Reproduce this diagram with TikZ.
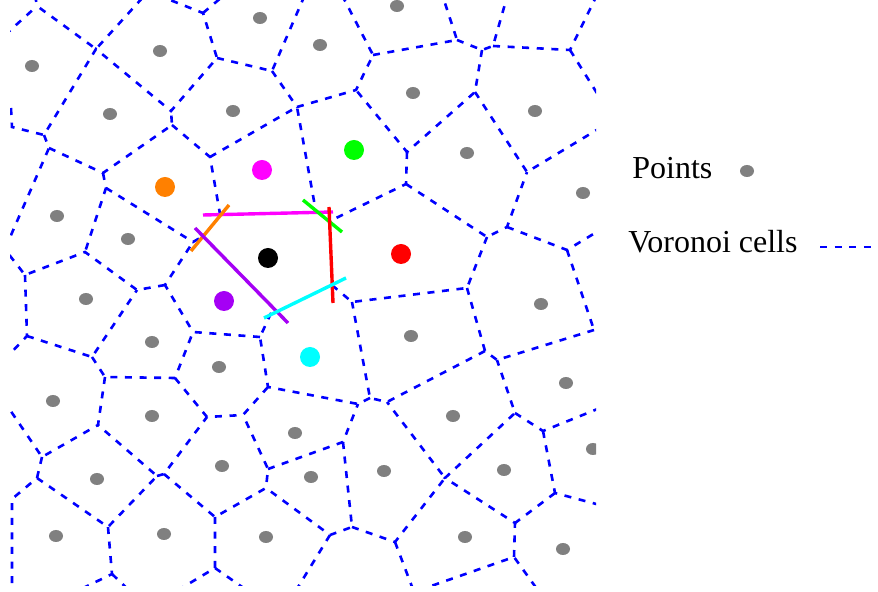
\documentclass[tikz,border=0pt]{standalone}
\usepackage{fontspec}
\setmainfont{Liberation Serif}
\usepackage{xcolor}
\definecolor{vorange}{RGB}{255,128,0}
\definecolor{vpurple}{RGB}{165,0,245}
\definecolor{vmagenta}{RGB}{255,0,255}
\definecolor{vcyan}{RGB}{0,255,255}
\definecolor{vgreen}{RGB}{0,255,0}
\definecolor{vred}{RGB}{255,0,0}
\definecolor{vgray}{RGB}{128,128,128}

\begin{document}
\begin{tikzpicture}[x=0.5pt,y=-0.5pt,
  vor/.style={blue,line width=1.3pt,dash pattern=on 3.5pt off 3.8pt},
  bar/.style={line width=1.7pt},
  lbl/.style={anchor=base west,inner sep=0pt,font=\fontsize{16}{18}\selectfont}]
\useasboundingbox (0,0) rectangle (878,592);

\coordinate (t1) at (35,-5);
\coordinate (v1) at (37,6);
\coordinate (l1) at (5,35);
\coordinate (v2) at (96,49);
\coordinate (t2) at (145,-5);
\coordinate (v3) at (44,135);
\coordinate (c2) at (12,127);
\coordinate (l2) at (11,108);
\coordinate (v3b) at (49,148);
\coordinate (l3) at (8,242);
\coordinate (v4) at (171,111);
\coordinate (v4b) at (172,125);
\coordinate (v5) at (103,173);
\coordinate (v5b) at (106,188);
\coordinate (vt) at (203,13);
\coordinate (t3) at (165,-2);
\coordinate (t4) at (222,-3);
\coordinate (v6) at (217,58);
\coordinate (v7) at (272,71);
\coordinate (t5) at (304,-3);
\coordinate (v8) at (297,107);
\coordinate (v9) at (356,90);
\coordinate (v9b) at (373,55);
\coordinate (t6) at (343,-3);
\coordinate (v10) at (210,157);
\coordinate (v11) at (457,40);
\coordinate (t7) at (443,-3);
\coordinate (v12) at (482,50);
\coordinate (v12b) at (493,46);
\coordinate (t8) at (507,-3);
\coordinate (v13) at (570,50);
\coordinate (t9) at (596,-3);
\coordinate (r1) at (600,98);
\coordinate (v14) at (475,92);
\coordinate (v15) at (407,152);
\coordinate (v16) at (527,172);
\coordinate (r2) at (600,128);
\coordinate (v17) at (406,184);
\coordinate (l4) at (7,252);
\coordinate (v18) at (25,275);
\coordinate (v19) at (85,252);
\coordinate (v20) at (27,336);
\coordinate (l5) at (6,358);
\coordinate (v21) at (137,290);
\coordinate (v22) at (193,242);
\coordinate (v23) at (165,285);
\coordinate (v24) at (92,357);
\coordinate (v24b) at (105,377);
\coordinate (v25) at (193,332);
\coordinate (v26) at (175,378);
\coordinate (k1) at (220,214);
\coordinate (k2) at (316,212);
\coordinate (k3) at (332,220);
\coordinate (k4) at (333,286);
\coordinate (k5) at (272,311);
\coordinate (k6) at (200,238);
\coordinate (v27) at (260,337);
\coordinate (v28) at (487,237);
\coordinate (v29) at (507,227);
\coordinate (v30) at (567,250);
\coordinate (r3) at (600,230);
\coordinate (v31) at (467,288);
\coordinate (vr) at (352,302);
\coordinate (v32a) at (485,351);
\coordinate (v32b) at (497,360);
\coordinate (v33) at (594,330);
\coordinate (r6) at (602,333);
\coordinate (v34) at (98,425);
\coordinate (v35) at (207,417);
\coordinate (v36) at (42,457);
\coordinate (l6) at (8,407);
\coordinate (v36b) at (37,478);
\coordinate (v39) at (12,499);
\coordinate (l7) at (12,595);
\coordinate (v37a) at (157,476);
\coordinate (v37b) at (164,474);
\coordinate (v38) at (108,527);
\coordinate (v40) at (112,574);
\coordinate (b1) at (75,592);
\coordinate (b2) at (135,596);
\coordinate (v41) at (243,415);
\coordinate (v42) at (268,387);
\coordinate (v43) at (358,404);
\coordinate (v43b) at (370,398);
\coordinate (v60) at (387,402);
\coordinate (v44) at (268,469);
\coordinate (v44b) at (266,488);
\coordinate (v45) at (343,442);
\coordinate (v47) at (215,517);
\coordinate (v48) at (330,535);
\coordinate (v49) at (352,527);
\coordinate (v50) at (215,568);
\coordinate (b3) at (170,595);
\coordinate (b4) at (255,596);
\coordinate (b5) at (295,592);
\coordinate (v46) at (445,478);
\coordinate (v51) at (515,413);
\coordinate (v52) at (543,431);
\coordinate (r4) at (600,408);
\coordinate (v53) at (555,493);
\coordinate (r5) at (600,505);
\coordinate (v54) at (395,542);
\coordinate (v55) at (414,592);
\coordinate (v56) at (515,523);
\coordinate (v57) at (514,557);
\coordinate (b7) at (542,596);

\begin{scope}
\clip (10,-1) rectangle (596,586);
\draw[vor] (t1) -- (v1) -- (v2) -- (t2);
\draw[vor] (l1) -- (v1);
\draw[vor] (l2) -- (c2) -- (v3) -- (v2) -- (v4) -- (v6) -- (vt) -- (t3);
\draw[vor] (vt) -- (t4);
\draw[vor] (v3) -- (v3b) -- (l3);
\draw[vor] (v3b) -- (v5) -- (v4b) -- (v4);
\draw[vor] (v5) -- (v5b) -- (v19);
\draw[vor] (v5b) -- (v22) -- (k6);
\draw[vor] (v4b) -- (v10) -- (k1);
\draw[vor] (v10) -- (v8) -- (k2);
\draw[vor] (v6) -- (v7) -- (t5);
\draw[vor] (v7) -- (v8) -- (v9) -- (v9b) -- (t6);
\draw[vor] (v9b) -- (v11) -- (t7);
\draw[vor] (v11) -- (v12) -- (v12b) -- (t8);
\draw[vor] (v12b) -- (v13) -- (t9);
\draw[vor] (v13) -- (r1);
\draw[vor] (v12) -- (v14) -- (v15) -- (v9);
\draw[vor] (v14) -- (v16) -- (r2);
\draw[vor] (v15) -- (v17) -- (k3);
\draw[vor] (v17) -- (v28) -- (v29) -- (v16);
\draw[vor] (v29) -- (v30) -- (r3);
\draw[vor] (v30) -- (v33) -- (r6);
\draw[vor] (v28) -- (v31) -- (vr) -- (k4);
\draw[vor] (v31) -- (v32a) -- (v32b) -- (v33);
\draw[vor] (v32a) -- (v60) -- (v43b) -- (vr);
\draw[vor] (v43b) -- (v43) -- (v42) -- (v27) -- (k5);
\draw[vor] (v27) -- (v25) -- (v23) -- (v22);
\draw[vor] (v23) -- (v21) -- (v19) -- (v18) -- (l4);
\draw[vor] (v18) -- (v20) -- (l5);
\draw[vor] (v20) -- (v24) -- (v21);
\draw[vor] (v24) -- (v24b) -- (v26) -- (v25);
\draw[vor] (v26) -- (v35) -- (v41) -- (v42);
\draw[vor] (v24b) -- (v34) -- (v36) -- (l6);
\draw[vor] (v36) -- (v36b) -- (v39) -- (l7);
\draw[vor] (v36b) -- (v38) -- (v37a) -- (v34);
\draw[vor] (v37a) -- (v37b) -- (v35);
\draw[vor] (v37b) -- (v47) -- (v44b) -- (v44) -- (v41);
\draw[vor] (v44) -- (v45) -- (v43);
\draw[vor] (v45) -- (v49) -- (v48) -- (v44b);
\draw[vor] (v48) -- (b5);
\draw[vor] (v38) -- (v40) -- (b1);
\draw[vor] (v40) -- (b2);
\draw[vor] (v47) -- (v50) -- (b3);
\draw[vor] (v50) -- (b4);
\draw[vor] (v49) -- (v54) -- (v46) -- (v60);
\draw[vor] (v54) -- (v55) -- (v57) -- (b7);
\draw[vor] (v57) -- (v56) -- (v46) -- (v51) -- (v32b);
\draw[vor] (v51) -- (v52) -- (r4);
\draw[vor] (v52) -- (v53) -- (r5);
\draw[vor] (v53) -- (v56);

\fill[vgray] (260,18) ellipse (3.5pt and 3pt) (397,6) ellipse (3.5pt and 3pt)
  (160,51) ellipse (3.5pt and 3pt) (320,45) ellipse (3.5pt and 3pt)
  (32,66) ellipse (3.5pt and 3pt) (413,93) ellipse (3.5pt and 3pt)
  (110,114) ellipse (3.5pt and 3pt) (233,111) ellipse (3.5pt and 3pt)
  (535,111) ellipse (3.5pt and 3pt) (467,153) ellipse (3.5pt and 3pt)
  (583,193) ellipse (3.5pt and 3pt) (57,216) ellipse (3.5pt and 3pt)
  (128,239) ellipse (3.5pt and 3pt) (86,299) ellipse (3.5pt and 3pt)
  (541,304) ellipse (3.5pt and 3pt) (152,342) ellipse (3.5pt and 3pt)
  (411,336) ellipse (3.5pt and 3pt) (219,367) ellipse (3.5pt and 3pt)
  (566,383) ellipse (3.5pt and 3pt) (53,401) ellipse (3.5pt and 3pt)
  (152,416) ellipse (3.5pt and 3pt) (295,433) ellipse (3.5pt and 3pt)
  (453,416) ellipse (3.5pt and 3pt) (222,466) ellipse (3.5pt and 3pt)
  (384,471) ellipse (3.5pt and 3pt) (504,470) ellipse (3.5pt and 3pt)
  (97,479) ellipse (3.5pt and 3pt) (311,477) ellipse (3.5pt and 3pt)
  (593,449) ellipse (3.5pt and 3pt) (56,536) ellipse (3.5pt and 3pt)
  (164,534) ellipse (3.5pt and 3pt) (266,537) ellipse (3.5pt and 3pt)
  (465,537) ellipse (3.5pt and 3pt) (563,549) ellipse (3.5pt and 3pt);
\end{scope}

\draw[vmagenta,bar] (203,215) -- (333,212);
\draw[vorange,bar] (191,251) -- (229,205);
\draw[vpurple,bar] (195,228) -- (288,323);
\draw[vgreen,bar] (303,200) -- (342,232);
\draw[vred,bar] (329,207) -- (333,303);
\draw[vcyan,bar] (264,318) -- (346,278);

\fill[vorange] (165,187) circle (5pt);
\fill[vmagenta] (262,170) circle (5pt);
\fill[vgreen] (354,150) circle (5pt);
\fill[black] (268,258) circle (5pt);
\fill[vred] (401,254) circle (5pt);
\fill[vpurple] (224,301) circle (5pt);
\fill[vcyan] (310,357) circle (5pt);

\node[lbl] (ptlabel) at (632,179) {Points};
\fill[vgray] (747,171) ellipse (3.5pt and 3pt);
\node[lbl] (vclabel) at (628,253) {Voronoi cells};
\coordinate (vcA) at (820,247);
\coordinate (vcB) at (878,247);
\draw[vor] (vcA) -- (vcB);
\end{tikzpicture}
\end{document}
